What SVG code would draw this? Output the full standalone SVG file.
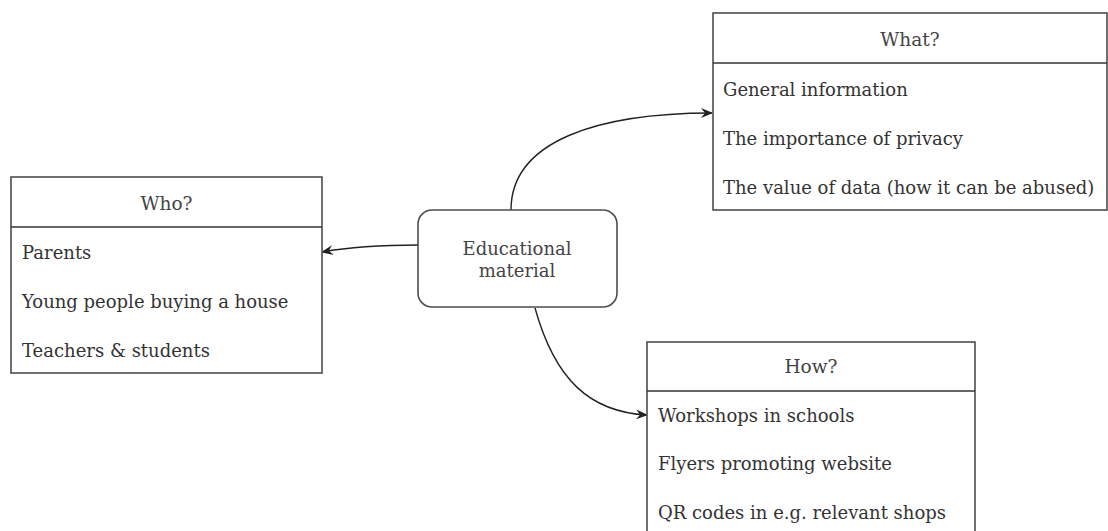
<svg xmlns="http://www.w3.org/2000/svg" width="1108" height="531" viewBox="0 0 1108 531">
<defs>
<style>
.box{fill:#fff;stroke:#4d4d4d;stroke-width:1.6}
.t{font-family:"DejaVu Serif","Liberation Serif",serif;font-size:18px;fill:#333}
.h{font-family:"DejaVu Serif","Liberation Serif",serif;font-size:18.5px;fill:#444;text-anchor:middle}
.e{font-family:"DejaVu Serif","Liberation Serif",serif;font-size:18px;fill:#444;text-anchor:middle}
.c{fill:none;stroke:#222;stroke-width:1.4;marker-end:url(#arr)}
</style>
<marker id="arr" viewBox="0 0 12 10" refX="11" refY="5" markerWidth="12" markerHeight="10" markerUnits="userSpaceOnUse" orient="auto">
<path d="M0,0 L12,5 L0,10 L4,5 Z" fill="#222"/>
</marker>
</defs>
<rect width="1108" height="531" fill="#fff"/>
<g id="connectors">
<path class="c" d="M418,245 C390,245 350,247 322,252"/>
<path class="c" d="M511,210 C511,140 600,113 712,113"/>
<path class="c" d="M535,308 C555,380 590,412 647,415"/>
</g>
<g id="who">
<rect class="box" x="11" y="177" width="311" height="196"/>
<line x1="11" y1="227" x2="322" y2="227" stroke="#333" stroke-width="1.6"/>
<text class="h" x="166.5" y="210">Who?</text>
<text class="t" x="22" y="259">Parents</text>
<text class="t" x="22" y="308">Young people buying a house</text>
<text class="t" x="22" y="357">Teachers &amp; students</text>
</g>
<g id="what">
<rect class="box" x="713" y="13" width="394" height="197"/>
<line x1="713" y1="63" x2="1107" y2="63" stroke="#333" stroke-width="1.6"/>
<text class="h" x="910" y="46">What?</text>
<text class="t" x="723" y="96">General information</text>
<text class="t" x="723" y="145">The importance of privacy</text>
<text class="t" x="723" y="194">The value of data (how it can be abused)</text>
</g>
<g id="edu">
<rect class="box" x="418" y="210" width="199" height="97" rx="14"/>
<text class="e" x="517" y="255">Educational</text>
<text class="e" x="517" y="277">material</text>
</g>
<g id="how">
<rect class="box" x="647" y="342" width="328" height="200"/>
<line x1="647" y1="391" x2="975" y2="391" stroke="#333" stroke-width="1.6"/>
<text class="h" x="811" y="373">How?</text>
<text class="t" x="658" y="422">Workshops in schools</text>
<text class="t" x="658" y="470">Flyers promoting website</text>
<text class="t" x="658" y="519">QR codes in e.g. relevant shops</text>
</g>
</svg>
